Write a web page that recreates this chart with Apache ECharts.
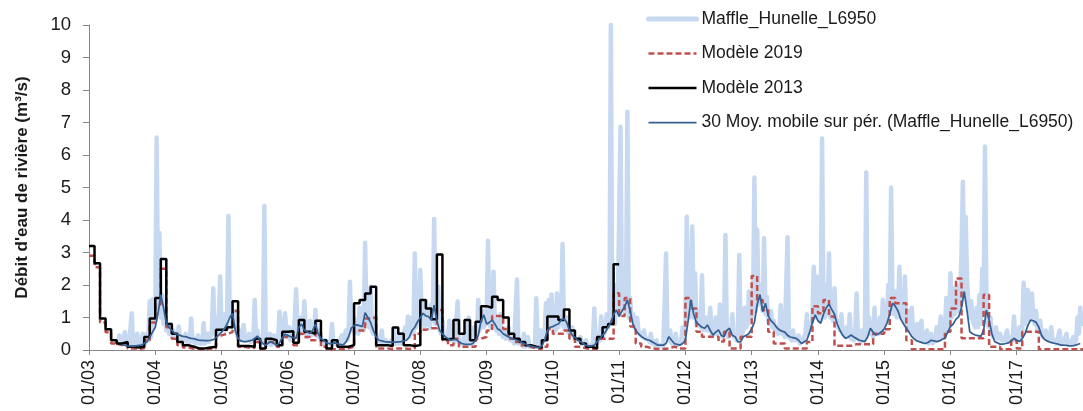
<!DOCTYPE html>
<html><head><meta charset="utf-8">
<script src="https://cdn.jsdelivr.net/npm/echarts@6/dist/echarts.min.js"></script>
<style>html,body{margin:0;padding:0;background:#fff}#c{width:1083px;height:411px}</style>
</head><body><div id="c"></div>
<script>
// ---- Tick labels / names ----
const seriesNames = ['Maffle_Hunelle_L6950', 'Modèle 2019', 'Modèle 2013', '30 Moy. mobile sur pér. (Maffle_Hunelle_L6950)'];
const yAxisTitle = "Débit d'eau de rivière (m³/s)";
const firstYear = 2003;

// ---- Observed flow, 48 samples per year (quarter-month) ----
const obs2003 = [null,null,null,null,null,null,null,null,null,null,null,null,null,null,null,null,null,null,null,null,null,
 0.2,0.45,0.2,0.15,0.4,0.55,0.15,0.12,0.2,0.15,1.13,0.15,0.12,0.3,0.5,0.15,0.12,0.2,0.5,0.15,0.2,0.5,0.3,1.5,0.4,1.55,0.8];
const obs2004 = [0.9,6.54,1.3,3.6,1.0,1.7,0.8,1.23,0.6,0.7,0.5,0.8,0.45,0.6,0.4,0.5,0.35,0.72,0.3,0.4,0.3,0.35,0.5,0.25,0.3,0.25,0.97,0.3,0.25,0.2,0.3,0.45,0.2,0.25,0.2,0.82,0.2,0.3,0.5,0.25,0.3,0.6,1.9,0.5,1.0,0.5,0.8,2.26];
const obs2005 = [0.6,0.9,1.1,0.6,0.8,4.12,0.9,1.5,0.7,0.9,1.2,0.5,0.4,0.6,0.3,0.35,0.77,0.3,0.25,0.35,0.5,0.25,0.2,0.3,1.54,0.3,0.6,0.25,0.2,0.3,0.2,4.43,0.3,0.15,0.2,0.5,0.15,0.2,0.45,0.2,0.25,0.3,1.18,0.4,0.5,0.6,1.13,0.5];
const obs2006 = [0.4,0.7,0.3,0.6,0.35,0.9,1.87,0.6,0.8,1.0,0.5,0.7,1.5,0.6,0.4,0.5,0.9,0.45,0.6,0.5,1.23,0.5,0.4,0.6,0.3,0.25,0.2,0.3,0.2,0.15,0.2,0.3,0.8,0.2,0.15,0.2,0.15,0.2,0.15,0.45,0.2,0.25,0.6,0.3,0.5,2.1,0.6,0.9];
const obs2007 = [1.0,0.6,0.8,0.5,1.3,0.7,0.9,0.6,3.3,0.8,1.4,0.7,1.95,0.6,0.5,1.0,0.4,0.3,0.35,0.25,0.6,0.25,0.2,0.3,0.2,0.25,0.2,0.3,0.2,0.6,0.2,0.25,0.2,0.5,0.2,0.3,0.25,0.7,0.35,1.03,0.4,0.6,1.0,0.5,2.97,0.7,1.2,0.8];
const obs2008 = [2.46,0.9,1.1,0.7,1.5,0.8,1.0,0.7,1.4,0.9,4.03,0.8,1.0,1.95,0.6,0.5,0.9,0.4,0.35,0.4,0.3,0.9,0.3,0.25,0.6,0.25,0.3,1.49,0.3,0.2,0.25,0.2,0.5,0.15,0.2,1.0,0.2,0.15,0.2,0.7,0.3,0.5,1.54,0.6,0.8,1.2,0.7,0.9];
const obs2009 = [0.8,3.36,0.9,0.7,1.0,2.41,0.8,0.6,0.9,0.5,1.1,0.5,0.4,0.6,0.35,0.4,0.7,0.3,0.25,0.3,0.2,0.25,2.17,0.2,0.15,0.2,0.12,0.5,0.1,0.12,0.4,0.1,0.08,0.1,0.08,0.1,1.59,0.15,0.2,0.6,0.3,0.5,0.4,1.44,0.6,1.54,0.7,1.71];
const obs2010 = [0.7,1.0,0.6,1.74,0.7,1.2,0.8,3.26,0.7,0.9,1.0,0.6,0.5,0.6,0.7,0.4,0.35,0.3,0.25,0.3,0.4,0.2,0.15,0.2,0.3,0.12,0.1,0.12,0.15,0.2,1.28,0.3,0.2,0.5,0.3,1.03,0.4,0.5,0.6,1.1,0.7,0.9,10.0,0.9,1.5,0.8,2.0,1.2];
const obs2011 = [1.2,6.87,1.3,2.5,1.2,1.5,7.33,1.0,1.6,0.9,1.1,0.7,0.8,1.0,0.6,0.5,0.45,0.4,0.6,0.35,0.3,0.35,0.25,0.5,0.2,0.2,0.15,0.3,0.12,0.12,0.15,0.1,0.12,0.15,2.97,0.4,0.3,0.6,0.2,0.15,0.2,0.5,0.15,0.12,0.2,0.3,0.7,0.4];
const obs2012 = [0.8,4.1,1.2,1.0,1.5,3.8,1.0,2.36,0.8,0.9,1.2,0.7,2.3,0.6,0.8,1.0,0.6,0.7,1.3,0.5,0.6,0.5,1.0,0.5,0.6,1.4,0.5,0.4,0.6,3.54,0.5,0.4,0.6,0.5,1.1,0.4,0.5,0.3,0.4,2.92,0.4,0.5,0.6,1.3,0.7,0.8,1.8,1.5];
const obs2013 = [1.0,1.3,5.31,1.2,3.7,1.4,1.6,2.0,1.2,3.44,1.1,1.64,0.9,0.8,1.2,0.7,0.9,0.6,0.7,0.5,0.6,1.38,0.5,0.7,0.4,0.45,3.47,0.4,0.35,0.3,0.6,0.3,0.25,0.3,0.45,0.2,0.25,0.3,0.35,0.5,1.1,0.5,0.8,0.7,1.0,2.56,1.0,2.26];
const obs2014 = [1.0,1.5,0.9,6.51,1.2,1.0,2.0,1.1,2.97,1.0,1.6,0.9,1.9,0.8,0.7,0.9,0.6,1.1,0.5,0.6,0.4,0.7,0.4,1.1,0.35,0.4,0.3,0.5,1.74,0.35,0.3,0.25,0.6,0.3,0.4,5.46,0.5,1.0,0.5,0.6,0.4,1.3,0.5,0.6,0.5,1.0,0.6,1.54];
const obs2015 = [0.8,1.0,0.9,2.0,1.2,5.0,1.3,1.1,1.8,1.0,1.2,2.56,1.0,1.6,0.9,2.26,0.8,1.2,0.6,0.7,1.3,0.5,0.4,0.5,0.8,0.35,0.3,0.9,0.25,0.3,0.25,0.6,0.2,0.25,0.5,0.2,0.25,0.3,0.7,0.3,0.35,1.03,0.4,0.5,0.6,1.6,0.7,0.9];
const obs2016 = [2.36,1.0,1.9,1.1,1.3,2.0,1.2,1.5,3.0,5.18,1.8,4.1,2.2,1.3,1.0,1.5,0.9,0.8,0.7,1.3,0.7,1.7,0.8,2.5,1.2,6.26,1.8,0.8,0.7,1.0,0.5,0.4,0.45,0.7,0.35,0.3,0.5,0.3,0.25,0.3,0.25,0.6,0.25,0.3,0.4,0.3,1.03,0.4];
const obs2017 = [0.3,0.4,0.7,0.4,0.6,2.07,0.8,1.5,1.85,0.9,1.2,1.74,1.0,0.8,1.2,0.6,0.7,0.9,0.5,0.4,0.45,0.6,0.35,0.3,0.35,0.7,0.3,0.25,0.3,0.2,0.25,0.6,0.2,0.2,0.25,0.2,0.5,0.2,0.15,0.2,0.2,0.4,0.2,0.3,1.0,0.5,1.3,0.8];
const obsYears = [obs2003,obs2004,obs2005,obs2006,obs2007,obs2008,obs2009,obs2010,obs2011,obs2012,obs2013,obs2014,obs2015,obs2016,obs2017];

// ---- 30-period moving average, 24 samples per year ----
const ma2003 = [null,null,null,null,null,null,null,null,null,null,null,null,0.15,0.15,0.13,0.12,0.12,0.13,0.14,0.15,0.2,0.25,0.4,0.55];
const ma2004 = [0.7,1.13,1.7,1.3,0.82,0.7,0.6,0.52,0.47,0.45,0.42,0.41,0.38,0.36,0.35,0.32,0.3,0.3,0.29,0.29,0.3,0.32,0.38,0.46];
const ma2005 = [0.55,0.65,0.8,1.0,1.13,0.6,0.35,0.28,0.26,0.26,0.28,0.3,0.35,0.43,0.3,0.2,0.15,0.22,0.26,0.2,0.15,0.22,0.38,0.48];
const ma2006 = [0.45,0.41,0.38,0.36,0.7,0.8,0.6,0.56,0.51,0.6,0.8,0.5,0.35,0.3,0.22,0.2,0.2,0.22,0.2,0.17,0.15,0.24,0.4,0.67];
const ma2007 = [0.75,0.77,0.75,0.72,1.15,1.0,0.84,0.6,0.4,0.3,0.28,0.26,0.25,0.24,0.24,0.24,0.25,0.26,0.28,0.3,0.4,0.6,0.7,0.87];
const ma2008 = [1.0,1.13,1.05,1.03,0.92,1.38,0.9,0.6,0.5,0.41,0.35,0.3,0.32,0.33,0.25,0.2,0.18,0.17,0.17,0.2,0.3,0.45,0.9,1.08];
const ma2009 = [0.8,0.85,0.92,0.8,0.65,0.6,0.5,0.45,0.4,0.36,0.33,0.3,0.26,0.22,0.18,0.15,0.12,0.1,0.08,0.08,0.12,0.3,0.6,0.7];
const ma2010 = [0.72,0.77,0.8,0.92,0.97,0.85,0.6,0.46,0.38,0.3,0.26,0.2,0.14,0.12,0.13,0.15,0.25,0.36,0.45,0.55,0.7,0.85,1.1,1.23];
const ma2011 = [1.03,1.2,1.33,1.54,1.2,0.8,0.6,0.5,0.42,0.36,0.32,0.3,0.25,0.2,0.15,0.15,0.15,0.2,0.41,0.3,0.2,0.17,0.15,0.2];
const ma2012 = [0.3,0.9,1.54,1.1,0.85,0.77,0.7,0.67,0.77,0.6,0.46,0.55,0.62,0.45,0.41,0.6,0.67,0.45,0.41,0.25,0.25,0.41,0.45,0.51];
const ma2013 = [0.65,0.85,1.4,1.7,1.18,1.44,1.05,0.9,0.82,0.7,0.62,0.58,0.55,0.45,0.4,0.38,0.36,0.3,0.2,0.25,0.31,0.55,0.85,1.08];
const ma2014 = [0.9,0.82,1.1,1.3,1.41,1.25,1.1,0.8,0.6,0.45,0.36,0.4,0.46,0.4,0.35,0.3,0.28,0.26,0.4,0.67,0.55,0.46,0.5,0.56];
const ma2015 = [0.65,0.82,1.1,1.44,1.35,1.2,0.95,0.8,0.67,0.55,0.41,0.33,0.27,0.25,0.22,0.2,0.24,0.3,0.28,0.26,0.28,0.33,0.36,0.55];
const ma2016 = [0.72,0.8,0.95,1.03,1.3,1.8,1.2,0.56,0.5,0.46,0.44,0.42,0.6,1.23,0.92,0.5,0.26,0.22,0.18,0.18,0.2,0.22,0.28,0.36];
const ma2017 = [0.3,0.26,0.35,0.5,0.75,0.92,0.9,0.85,0.7,0.45,0.33,0.28,0.24,0.22,0.2,0.18,0.15,0.15,0.14,0.13,0.13,0.14,0.17,0.2];
const maYears = [ma2003,ma2004,ma2005,ma2006,ma2007,ma2008,ma2009,ma2010,ma2011,ma2012,ma2013,ma2014,ma2015,ma2016,ma2017];

// ---- Modèle 2019, monthly values ----
const m19_2003 = [2.9,2.55,0.85,0.55,0.2,0.15,0.2,0.05,0.03,0.05,0.3,0.85];
const m19_2004 = [1.4,2.5,0.7,0.35,0.15,0.08,0.04,0.02,0.02,0.04,0.05,0.45];
const m19_2005 = [0.5,0.55,1.2,0.1,0.08,0.06,0.25,0.03,0.25,0.2,0.1,0.4];
const m19_2006 = [0.4,0.15,0.5,0.4,0.3,0.55,0.1,0.02,0.03,0.02,0.05,0.1];
const m19_2007 = [0.6,0.6,0.97,1.0,0.05,0.05,0.03,0.05,0.05,0.03,0.05,0.5];
const m19_2008 = [0.62,0.67,0.67,1.23,0.3,0.15,0.35,0.1,0.1,0.1,0.35,0.4];
const m19_2009 = [0.6,1.05,1.05,0.65,0.35,0.25,0.15,0.1,0.05,0.02,0.1,0.65];
const m19_2010 = [0.5,0.5,0.6,0.35,0.1,0.05,0.03,0.03,0.35,0.35,0.35,1.75];
const m19_2011 = [1.05,1.6,0.72,0.2,0.1,0.05,0.03,0.03,0.05,0.1,0.05,0.05];
const m19_2012 = [1.6,1.28,0.56,0.41,0.41,0.41,0.26,0.56,0.05,0.05,0.41,0.41];
const m19_2013 = [2.28,1.54,1.23,0.56,0.2,0.2,0.05,0.05,0.05,0.05,0.25,1.35];
const m19_2014 = [1.13,1.54,1.03,0.13,0.13,0.13,0.18,0.18,0.18,0.18,0.5,0.5];
const m19_2015 = [0.64,1.6,1.44,1.44,0.3,0.02,0.02,0.02,0.02,0.02,0.02,0.56];
const m19_2016 = [1.28,2.2,0.36,0.36,0.36,0.36,1.7,0.1,0.1,0.02,0.02,0.3];
const m19_2017 = [0.05,0.56,0.56,0.56,0.02,0.02,0.02,0.02,0.02,0.02,0.02,0.02];
const m19Years = [m19_2003,m19_2004,m19_2005,m19_2006,m19_2007,m19_2008,m19_2009,m19_2010,m19_2011,m19_2012,m19_2013,m19_2014,m19_2015,m19_2016,m19_2017];

// ---- Modèle 2013, monthly values (2003-2010) ----
const m13_2003 = [3.2,2.67,0.97,0.64,0.3,0.2,0.25,0.1,0.08,0.1,0.4,0.97];
const m13_2004 = [1.6,2.8,0.8,0.5,0.25,0.15,0.1,0.05,0.05,0.08,0.1,0.62];
const m13_2005 = [0.62,0.7,1.5,0.12,0.12,0.1,0.35,0.05,0.35,0.3,0.15,0.56];
const m13_2006 = [0.58,0.22,0.92,0.56,0.5,0.9,0.3,0.05,0.3,0.1,0.1,0.15];
const m13_2007 = [1.44,1.54,1.74,1.95,0.15,0.15,0.12,0.69,0.5,0.15,0.12,0.15];
const m13_2008 = [1.54,1.28,0.95,2.94,0.33,0.35,0.92,0.5,0.92,0.3,0.87,1.35];
const m13_2009 = [1.3,1.64,1.54,1.0,0.5,0.35,0.25,0.15,0.1,0.08,0.3,1.03];
const m13_2010 = [1.03,0.92,1.25,0.6,0.35,0.2,0.1,0.05,0.4,0.7,0.8,2.64];
const m13Years = [m13_2003,m13_2004,m13_2005,m13_2006,m13_2007,m13_2008,m13_2009,m13_2010];

// ---- build [time-in-years, value] pairs ----
function build(yearArrays, perYear, closeEnd) {
  const out = [];
  yearArrays.forEach((arr, yi) => {
    arr.forEach((v, k) => { if (v !== null) out.push([firstYear + yi + k / perYear, v]); });
  });
  if (closeEnd) out.push([firstYear + yearArrays.length, out[out.length - 1][1]]);
  return out;
}
const obsData = build(obsYears, 48, false);
const maData = build(maYears, 24, false);
const m19Data = build(m19Years, 12, true);
const m13Data = build(m13Years, 12, true);

const FONT = 'Liberation Sans';
const AX = '#868686';
const TXT = '#1a1a1a';
const C_OBS = '#c6d9f1', C_M19 = '#c0504d', C_M13 = '#000000', C_MA = '#376092';

const chart = echarts.init(document.getElementById('c'), null, {renderer: 'canvas'});
chart.setOption({
  animation: false,
  backgroundColor: '#ffffff',
  grid: {left: 89, right: -2, top: 25, bottom: 61},
  legend: {
    orient: 'vertical', left: 641, top: 4,
    itemWidth: 48, itemHeight: 14, itemGap: 14.5,
    textStyle: {fontFamily: FONT, fontSize: 17.5, color: TXT, lineHeight: 20},
    itemStyle: {opacity: 0, color: 'transparent', borderWidth: 0},
    data: [
      {name: seriesNames[0], lineStyle: {color: C_OBS, width: 5, type: 'solid'}},
      {name: seriesNames[1], lineStyle: {color: C_M19, width: 2.5, type: [6, 3]}},
      {name: seriesNames[2], lineStyle: {color: C_M13, width: 2.5, type: 'solid'}},
      {name: seriesNames[3], lineStyle: {color: C_MA, width: 1.75, type: 'solid'}}
    ]
  },
  xAxis: {
    type: 'value', min: 2003, max: 2018, interval: 1,
    axisLine: {show: true, lineStyle: {color: AX, width: 1}},
    axisTick: {show: true, length: 5, lineStyle: {color: AX}},
    splitLine: {show: false},
    axisLabel: {
      rotate: 90, margin: 10, fontFamily: FONT, fontSize: 18, color: TXT,
      formatter: v => {
        const r = Math.round(v);
        if (Math.abs(v - r) > 1e-6 || r > 2017) return '';
        return '01/' + String(r).slice(2);
      }
    }
  },
  yAxis: {
    type: 'value', min: 0, max: 10, interval: 1,
    name: yAxisTitle, nameLocation: 'middle', nameGap: 58,
    nameTextStyle: {fontFamily: FONT, fontSize: 17, fontWeight: 'bold', color: TXT},
    axisLine: {show: true, lineStyle: {color: AX, width: 1}},
    axisTick: {show: true, length: 6, lineStyle: {color: AX}},
    splitLine: {show: false},
    axisLabel: {margin: 18, fontFamily: FONT, fontSize: 18.5, color: TXT}
  },
  series: [
    {name: seriesNames[0], type: 'line', data: obsData, symbol: 'none', showSymbol: false,
     lineStyle: {color: C_OBS, width: 4.5, join: 'round', cap: 'round'}, itemStyle: {color: C_OBS}, z: 1},
    {name: seriesNames[1], type: 'line', step: 'end', data: m19Data, symbol: 'none', showSymbol: false,
     lineStyle: {color: C_M19, width: 2.5, type: [6, 3]}, itemStyle: {color: C_M19}, z: 2},
    {name: seriesNames[2], type: 'line', step: 'end', data: m13Data, symbol: 'none', showSymbol: false,
     lineStyle: {color: C_M13, width: 2.5}, itemStyle: {color: C_M13}, z: 3},
    {name: seriesNames[3], type: 'line', data: maData, symbol: 'none', showSymbol: false,
     lineStyle: {color: C_MA, width: 1.75}, itemStyle: {color: C_MA}, z: 4}
  ]
});
</script></body></html>
